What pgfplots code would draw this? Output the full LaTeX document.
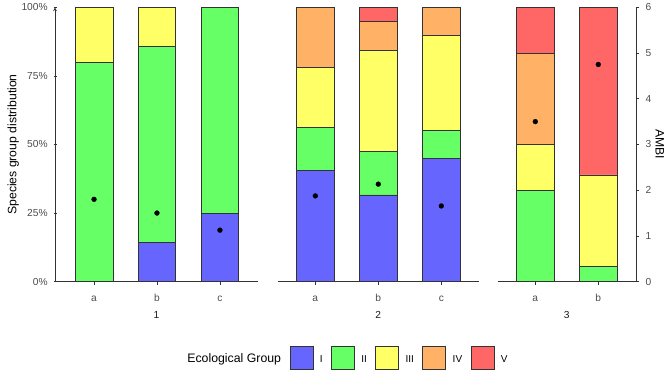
\documentclass[border=0pt]{standalone}
\usepackage{fontspec}
\setmainfont{Liberation Sans}
\usepackage{pgfplots}
\pgfplotsset{compat=1.18}
\definecolor{cI}{RGB}{102,102,255}
\definecolor{cII}{RGB}{102,255,102}
\definecolor{cIII}{RGB}{255,255,102}
\definecolor{cIV}{RGB}{255,178,102}
\definecolor{cV}{RGB}{255,102,102}
\definecolor{edge}{RGB}{51,51,51}
\definecolor{tickc}{RGB}{77,77,77}
\definecolor{stripc}{RGB}{26,26,26}
\pgfplotsset{
  panel/.style={
    scale only axis, height=274.3pt, ymin=0, ymax=100,
    enlargelimits=false,
    ybar stacked, bar width=0.6,
    axis x line=bottom,
    axis line style={draw=edge, line width=0.75pt, -},
    tick align=outside, major tick length=3pt,
    tick style={draw=edge, line width=0.75pt},
    xtick={1,2,3}, xticklabels={a,b,c},
    xticklabel style={font=\fontsize{10.2}{12}\selectfont, text=tickc, anchor=base, inner sep=0pt, yshift=-16.7pt},
    xlabel style={at={(axis description cs:0.5,0)}, anchor=base, inner sep=0pt, yshift=-36.4pt, font=\fontsize{10.2}{12}\selectfont, text=stripc},
    every axis plot/.append style={draw=edge, line width=0.75pt},
  },
  ambi/.style={
    scale only axis, height=274.3pt, ymin=0, ymax=6,
    enlargelimits=false,
  },
  dots/.style={only marks, mark=*, mark size=2.5pt, mark options={fill=black, draw=black, line width=0.2pt}},
  legbox/.style={legend image code/.code={\draw[fill=#1, draw=edge, line width=0.75pt] (0pt,-7pt) rectangle (23pt,16pt);}},
}
\begin{document}
\begin{tikzpicture}[x=1pt,y=1pt]
\path[use as bounding box] (0,0) rectangle (672,384);

% ---------- Panel 1 ----------
\begin{axis}[panel, at={(55pt,102.4pt)}, anchor=south west, width=202.7pt,
  xmin=0.38, xmax=3.6,
  axis y line=left,
  ytick={0,25,50,75,100}, yticklabels={0\%,25\%,50\%,75\%,100\%},
  yticklabel style={font=\fontsize{10.2}{12}\selectfont, text=tickc, anchor=east, inner sep=0pt, xshift=-5.7pt},
  xlabel={1},
  ylabel={Species group distribution},
  ylabel style={at={(axis description cs:-0.2057,0.5)}, anchor=center, font=\fontsize{12.2}{14}\selectfont, text=black},
]
\addplot[fill=cI]   coordinates {(1,0) (2,14.286) (3,25)};
\addplot[fill=cII]  coordinates {(1,80) (2,71.428) (3,75)};
\addplot[fill=cIII] coordinates {(1,20) (2,14.286) (3,0)};
\addplot[fill=cIV]  coordinates {(1,0) (2,0) (3,0)};
\addplot[fill=cV]   coordinates {(1,0) (2,0) (3,0)};
\end{axis}
\begin{axis}[ambi, at={(55pt,102.4pt)}, anchor=south west, width=202.7pt,
  xmin=0.38, xmax=3.6, hide axis]
\addplot[dots] coordinates {(1,1.8) (2,1.5) (3,1.125)};
\end{axis}

% ---------- Panel 2 ----------
\begin{axis}[panel, at={(277.5pt,102.4pt)}, anchor=south west, width=201.6pt,
  xmin=0.4, xmax=3.6,
  axis y line=none, ytick=\empty,
  xlabel={2},
  legend columns=-1,
  legend style={at={(axis description cs:-0.4792,-0.277)}, anchor=west,
    draw=none, fill=none, inner sep=0pt, outer sep=0pt,
    nodes={anchor=base west, inner sep=0pt, font=\fontsize{10}{12}\selectfont},
    /tikz/every odd column/.append style={column sep=6.5pt},
    /tikz/every even column/.append style={column sep=8.5pt}},
]
\addlegendimage{empty legend}
\addlegendentry{\fontsize{12.3}{14}\selectfont Ecological Group}
\addplot[fill=cI, legbox=cI]     coordinates {(1,40.625) (2,31.579) (3,44.828)};
\addlegendentry{I}
\addplot[fill=cII, legbox=cII]   coordinates {(1,15.625) (2,15.789) (3,10.345)};
\addlegendentry{II}
\addplot[fill=cIII, legbox=cIII] coordinates {(1,21.875) (2,36.842) (3,34.483)};
\addlegendentry{III}
\addplot[fill=cIV, legbox=cIV]   coordinates {(1,21.875) (2,10.527) (3,10.344)};
\addlegendentry{IV}
\addplot[fill=cV, legbox=cV]     coordinates {(1,0) (2,5.263) (3,0)};
\addlegendentry{V}
\end{axis}
\begin{axis}[ambi, at={(277.5pt,102.4pt)}, anchor=south west, width=201.6pt,
  xmin=0.4, xmax=3.6, hide axis]
\addplot[dots] coordinates {(1,1.875) (2,2.132) (3,1.655)};
\end{axis}

% ---------- Panel 3 ----------
\begin{axis}[panel, at={(497.5pt,102.4pt)}, anchor=south west, width=138.6pt,
  xmin=0.4, xmax=2.6,
  axis y line=none, ytick=\empty,
  xtick={1,2}, xticklabels={a,b},
  xlabel={3},
]
\addplot[fill=cI]   coordinates {(1,0) (2,0)};
\addplot[fill=cII]  coordinates {(1,33.333) (2,5.556)};
\addplot[fill=cIII] coordinates {(1,16.667) (2,33.333)};
\addplot[fill=cIV]  coordinates {(1,33.333) (2,0)};
\addplot[fill=cV]   coordinates {(1,16.667) (2,61.111)};
\end{axis}
\begin{axis}[ambi, at={(497.5pt,102.4pt)}, anchor=south west, width=138.6pt,
  xmin=0.4, xmax=2.6,
  axis x line=none, axis y line=right,
  axis line style={draw=edge, line width=0.75pt, -},
  tick align=outside, major tick length=3pt,
  tick style={draw=edge, line width=0.75pt},
  ytick={0,1,2,3,4,5,6},
  /pgf/number format/assume math mode=true,
  yticklabel style={font=\fontsize{10.2}{12}\selectfont, text=tickc, anchor=west, inner sep=0pt, xshift=6.2pt},
  ylabel={AMBI},
  every axis y label/.style={at={(axis description cs:1.172,0.5)}, rotate=-90, anchor=center, font=\fontsize{12.2}{14}\selectfont},
]
\addplot[dots] coordinates {(1,3.5) (2,4.75)};
\end{axis}
\end{tikzpicture}
\end{document}
